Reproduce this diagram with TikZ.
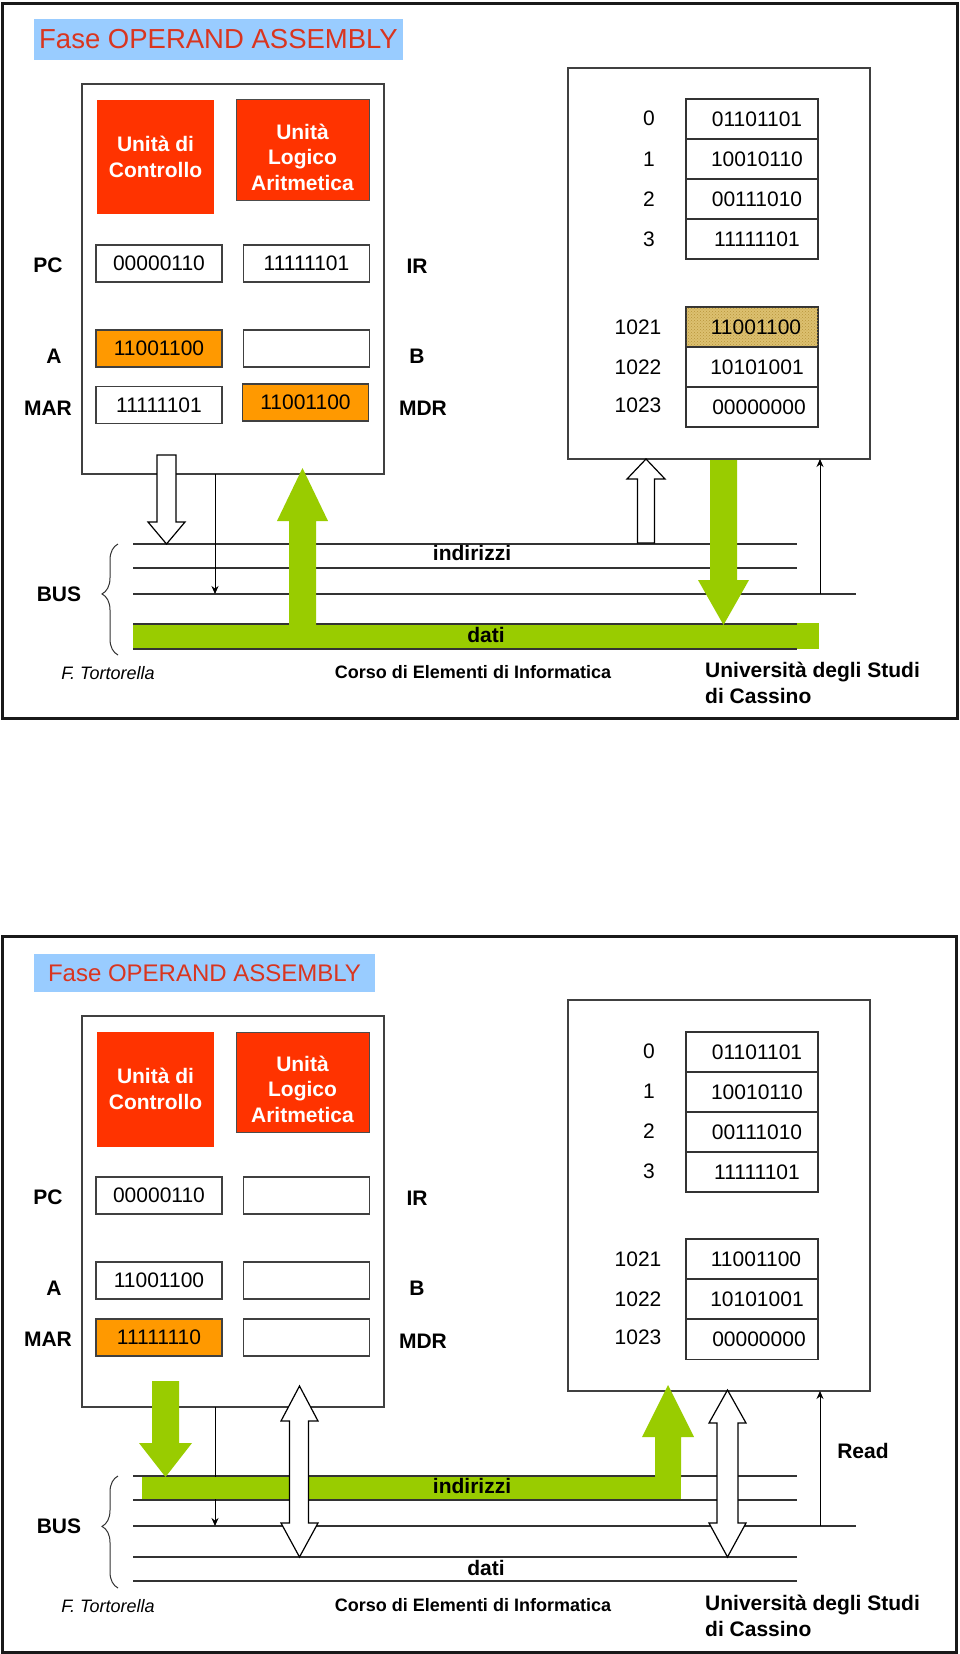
\documentclass[tikz,border=0pt]{standalone}
\usepackage{fontspec}
\setmainfont{Liberation Sans}
\usetikzlibrary{decorations.pathreplacing,arrows.meta,patterns}
\definecolor{unitred}{HTML}{FF3300}
\definecolor{regorange}{HTML}{FF9900}
\definecolor{busgreen}{HTML}{99CC00}
\definecolor{titleblue}{HTML}{99CCFF}
\definecolor{titlered}{HTML}{D9351F}
\definecolor{goldcell}{HTML}{DCC070}
\definecolor{golddot}{HTML}{B8953A}
\newcommand{\fsz}[2]{\fontsize{#1}{#2}\selectfont}
\begin{document}
\begin{tikzpicture}[x=1pt,y=-1pt,
  frame/.style={draw=black!90, line width=3pt},
  titlebox/.style={fill=titleblue, text=titlered, inner sep=0},
  box/.style={draw=black!75, line width=1.3pt, fill=white, inner sep=0},
  unit/.style={fill=unitred, inner sep=0},
  unittxt/.style={text=white, font=\fsz{21}{25.5}\bfseries, align=center, inner sep=0},
  reg/.style={draw=black!75, line width=1.3pt, fill=white, minimum width=126pt, minimum height=37pt, inner sep=0, font=\fsz{21}{25}},
  lab/.style={font=\fsz{21}{25}\bfseries, inner sep=0},
  cell/.style={draw=black!80, line width=1.2pt, fill=white, minimum width=132pt, minimum height=40pt, inner sep=0, font=\fsz{21}{25}},
  addr/.style={font=\fsz{21}{25}, inner sep=0},
  busline/.style={draw=black!80, line width=1.4pt},
  hollow/.style={draw=black, line width=1.2pt, fill=white, line join=miter},
  greenarrow/.style={fill=busgreen},
  thinarrow/.style={draw=black, line width=0.9pt, -{Stealth[length=8pt,width=7pt]}},
  brace/.style={draw=black!80, line width=1pt, decorate, decoration={brace, amplitude=16pt, aspect=0.55}},
  foot/.style={inner sep=0}
]
\useasboundingbox (0,0) rectangle (960,1654);
\fill[white] (0,0) rectangle (960,1654);

% ================= PANEL 1 =================
\draw[frame] (2,4) rectangle (957,718);
\node[titlebox, minimum width=369pt, minimum height=41pt, font=\fsz{27.5}{31}] (title1) at (218.5,39.5) {Fase OPERAND ASSEMBLY};

% CPU
\node[box, minimum width=302pt, minimum height=390pt] (cpu1) at (233,279) {};
\node[unit, minimum width=117pt, minimum height=114pt] (cu1) at (155.5,157) {};
\node[unittxt] (cu1t) at (155.5,157) {Unità di\\Controllo};
\node[unit, draw=black!70, line width=1pt, minimum width=133pt, minimum height=101pt] (alu1) at (302.5,149.5) {};
\node[unittxt] (alu1t) at (302.5,157) {Unità\\Logico\\Aritmetica};

\node[reg] (pc1) at (159,263.5) {00000110};
\node[reg] (ir1) at (306.5,263.5) {11111101};
\node[reg, fill=regorange] (a1) at (159,348.5) {11001100};
\node[reg] (b1) at (306.5,348.5) {};
\node[reg] (mar1) at (159,405) {11111101};
\node[reg, fill=regorange] (mdr1) at (305.5,402.5) {11001100};
\node[lab] (pcl1) at (48,265) {PC};
\node[lab] (irl1) at (417,266) {IR};
\node[lab] (al1) at (54,356) {A};
\node[lab] (bl1) at (417,356) {B};
\node[lab] (marl1) at (48,408) {MAR};
\node[lab] (mdrl1) at (423,408) {MDR};

% Memory
\node[box, minimum width=302pt, minimum height=391pt] (mem1) at (719,263.5) {};
\node[cell] (m1c0) at (752,119) {\hspace*{10pt}01101101};
\node[cell] (m1c1) at (752,159) {\hspace*{10pt}10010110};
\node[cell] (m1c2) at (752,199) {\hspace*{10pt}00111010};
\node[cell] (m1c3) at (752,239) {\hspace*{10pt}11111101};
\node[cell, fill=goldcell, postaction={pattern=crosshatch dots, pattern color=golddot}] (m1c1021) at (752,327) {};
\node[addr] (m1c1021t) at (756,327) {11001100};
\node[cell] (m1c1022) at (752,367) {\hspace*{10pt}10101001};
\node[cell] (m1c1023) at (752,407) {\hspace*{14pt}00000000};
\node[addr] (m1a0) at (649,118) {0};
\node[addr] (m1a1) at (649,159) {1};
\node[addr] (m1a2) at (649,199) {2};
\node[addr] (m1a3) at (649,239) {3};
\node[addr] (m1a1021) at (638,327) {1021};
\node[addr] (m1a1022) at (638,367) {1022};
\node[addr] (m1a1023) at (638,405) {1023};

% Bus lines
\draw[busline] (133,544) -- (797,544);
\draw[busline] (133,568) -- (797,568);
\draw[busline] (133,594) -- (856,594);
\draw[busline] (133,624) -- (797,624);
\draw[busline] (133,649) -- (797,649);
\draw[brace] (118,655) -- (118,544);
\node[lab] (bus1) at (59,594) {BUS};

% thin arrows
\coordinate (t1a) at (215,474);
\coordinate (t1b) at (215,594);
\coordinate (r1a) at (820,594);
\coordinate (r1b) at (820,459);
\draw[thinarrow] (t1a) -- (t1b);
\draw[thinarrow] (r1a) -- (r1b);

% green
\fill[greenarrow] (133,624.9) rectangle (819,648.2);
\fill[greenarrow] (797,623) rectangle (819,649);
\fill[greenarrow] (289,625) -- (289,521) -- (277,521) -- (302.5,468) -- (328,521) -- (316,521) -- (316,625) -- cycle;
\fill[greenarrow] (710,460) -- (737,460) -- (737,580) -- (749,580) -- (723.5,625) -- (698,580) -- (710,580) -- cycle;

% hollow arrows
\draw[hollow] (157,455) -- (176,455) -- (176,522) -- (185,522) -- (166.5,544) -- (148,522) -- (157,522) -- cycle;
\draw[hollow] (637.5,543) -- (637.5,479) -- (627,479) -- (646,459) -- (665,479) -- (654.5,479) -- (654.5,543) -- cycle;

\node[lab] (ind1) at (472,553) {indirizzi};
\node[lab] (dati1) at (486,635) {dati};

% footer
\node[foot, font=\fsz{18}{22}\itshape] (auth1) at (108,673) {F. Tortorella};
\node[foot, font=\fsz{18}{22}\bfseries] (corso1) at (473,672) {Corso di Elementi di Informatica};
\node[foot, font=\fsz{21}{26}\bfseries, anchor=base west] (univ1) at (705,677.5) {Università degli Studi};
\node[foot, font=\fsz{21}{26}\bfseries, anchor=base west] (univ1b) at (705,703.5) {di Cassino};

% ================= PANEL 2 =================
\draw[frame] (2,936) rectangle (956,1652);
\node[titlebox, minimum width=341pt, minimum height=38pt, font=\fsz{24}{28}] (title2) at (204.5,973) {Fase OPERAND ASSEMBLY};

\node[box, minimum width=302pt, minimum height=391pt] (cpu2) at (233,1211.5) {};
\node[unit, minimum width=117pt, minimum height=115pt] (cu2) at (155.5,1089.5) {};
\node[unittxt] (cu2t) at (155.5,1089) {Unità di\\Controllo};
\node[unit, draw=black!70, line width=1pt, minimum width=133pt, minimum height=100pt] (alu2) at (302.5,1082) {};
\node[unittxt] (alu2t) at (302.5,1089) {Unità\\Logico\\Aritmetica};

\node[reg] (pc2) at (159,1195.5) {00000110};
\node[reg] (ir2) at (306.5,1195.5) {};
\node[reg] (a2) at (159,1280.5) {11001100};
\node[reg] (b2) at (306.5,1280.5) {};
\node[reg, fill=regorange] (mar2) at (159,1337.5) {11111110};
\node[reg] (mdr2) at (306.5,1337.5) {};
\node[lab] (pcl2) at (48,1197) {PC};
\node[lab] (irl2) at (417,1198) {IR};
\node[lab] (al2) at (54,1288) {A};
\node[lab] (bl2) at (417,1288) {B};
\node[lab] (marl2) at (48,1339) {MAR};
\node[lab] (mdrl2) at (423,1341) {MDR};

\node[box, minimum width=302pt, minimum height=391pt] (mem2) at (719,1195.5) {};
\node[cell] (m2c0) at (752,1052) {\hspace*{10pt}01101101};
\node[cell] (m2c1) at (752,1092) {\hspace*{10pt}10010110};
\node[cell] (m2c2) at (752,1132) {\hspace*{10pt}00111010};
\node[cell] (m2c3) at (752,1172) {\hspace*{10pt}11111101};
\node[cell] (m2c1021) at (752,1259) {\hspace*{8pt}11001100};
\node[cell] (m2c1022) at (752,1299) {\hspace*{10pt}10101001};
\node[cell] (m2c1023) at (752,1339.5) {\hspace*{14pt}00000000};
\node[addr] (m2a0) at (649,1051) {0};
\node[addr] (m2a1) at (649,1091) {1};
\node[addr] (m2a2) at (649,1131) {2};
\node[addr] (m2a3) at (649,1171) {3};
\node[addr] (m2a1021) at (638,1259) {1021};
\node[addr] (m2a1022) at (638,1299) {1022};
\node[addr] (m2a1023) at (638,1337) {1023};

\draw[busline] (133,1476) -- (797,1476);
\draw[busline] (133,1500) -- (797,1500);
\draw[busline] (133,1526) -- (856,1526);
\draw[busline] (133,1557) -- (797,1557);
\draw[busline] (133,1581) -- (797,1581);
\draw[brace] (118,1588) -- (118,1476);
\node[lab] (bus2) at (59,1526) {BUS};

\coordinate (t2a) at (215,1407);
\coordinate (t2b) at (215,1526);
\coordinate (r2a) at (820,1526);
\coordinate (r2b) at (820,1391);
\draw[thinarrow] (t2a) -- (t2b);
\draw[thinarrow] (r2a) -- (r2b);
\node[lab] (read2) at (863,1451) {Read};

% green address path
\fill[greenarrow] (142,1476.9) rectangle (681,1499.2);
\fill[greenarrow] (152,1381) -- (179,1381) -- (179,1443) -- (192,1443) -- (165.5,1477) -- (139,1443) -- (152,1443) -- cycle;
\fill[greenarrow] (655,1478) -- (655,1437) -- (642,1437) -- (668,1385) -- (694,1437) -- (681,1437) -- (681,1478) -- cycle;

% hollow double arrows
\draw[hollow] (289.5,1421) -- (281,1421) -- (299.5,1386) -- (318,1421) -- (308.5,1421) -- (308.5,1523) -- (318,1523) -- (299.5,1557) -- (281,1523) -- (289.5,1523) -- cycle;
\draw[hollow] (717,1423) -- (709,1423) -- (727.5,1390) -- (746,1423) -- (738,1423) -- (738,1523) -- (746,1523) -- (727.5,1557) -- (709,1523) -- (717,1523) -- cycle;

\node[lab] (ind2) at (472,1486) {indirizzi};
\node[lab] (dati2) at (486,1568) {dati};

\node[foot, font=\fsz{18}{22}\itshape] (auth2) at (108,1606) {F. Tortorella};
\node[foot, font=\fsz{18}{22}\bfseries] (corso2) at (473,1605) {Corso di Elementi di Informatica};
\node[foot, font=\fsz{21}{26}\bfseries, anchor=base west] (univ2) at (705,1610.5) {Università degli Studi};
\node[foot, font=\fsz{21}{26}\bfseries, anchor=base west] (univ2b) at (705,1636) {di Cassino};
\end{tikzpicture}
\end{document}
